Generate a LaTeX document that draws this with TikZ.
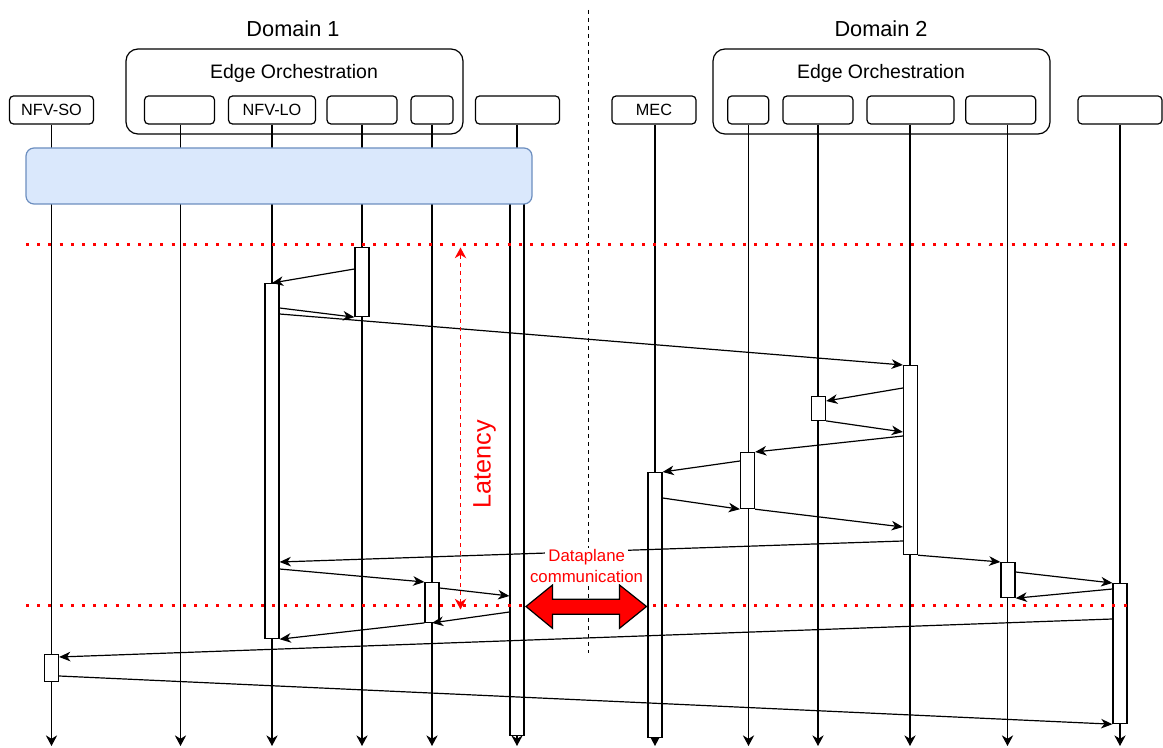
\documentclass[tikz,border=0pt]{standalone}
\usepackage{fontspec}
\setmainfont{Liberation Sans}
\usetikzlibrary{arrows.meta,calc}
\definecolor{bluefill}{HTML}{DAE8FC}
\definecolor{blueline}{HTML}{6C8EBF}
\definecolor{myred}{HTML}{FF0000}
\begin{document}
\begin{tikzpicture}[x=0.75pt,y=-0.75pt,
  lbl/.style={draw, rounded corners=3pt, line width=0.9pt, inner sep=0pt,
    font=\fontsize{12.2}{14}\selectfont, minimum height={28*0.75pt}},
  orch/.style={draw, rounded corners=9pt, line width=0.9pt, inner sep=0pt,
    minimum height={85*0.75pt}, minimum width={337*0.75pt}},
  title/.style={anchor=base, inner sep=0pt, font=\fontsize{16.3}{19}\selectfont},
  subtitle/.style={anchor=base, inner sep=0pt, font=\fontsize{14.6}{17}\selectfont},
  life/.style={line width=0.9pt, -{Stealth[length=8pt,width=8.5pt,inset=2.6pt]}},
  bar/.style={draw, fill=white, line width=0.9pt, inner sep=0pt, anchor=north,
    minimum width={14*0.75pt}},
  msg/.style={line width=0.9pt, -{Stealth[length=8.5pt,width=7.2pt,inset=2.6pt]}},
  reddot/.style={myred, line width=2.25pt, dash pattern=on 2.25pt off 6.15pt},
  latarrow/.style={myred, line width=1pt, dash pattern=on 3pt off 3pt,
    {Stealth[length=8pt,width=8.5pt,inset=2.5pt]}-{Stealth[length=8pt,width=8.5pt,inset=2.5pt]}},
  dp/.style={anchor=base, fill=white, text=myred, inner xsep=2.5pt, inner ysep=1pt,
    font=\fontsize{12.6}{15}\selectfont}]
\useasboundingbox (0,0) rectangle (1163,748);
\coordinate (bottom) at (0,746);

% containers and titles
\node[orch] (orch1) at (294.5,91.5) {};
\node[orch] (orch2) at (881.5,91.5) {};
\node[title] (dom1) at (293,36.7) {Domain 1};
\node[title] (dom2) at (881,36.7) {Domain 2};
\node[subtitle] (eo1) at (294,78.3) {Edge Orchestration};
\node[subtitle] (eo2) at (881,78.3) {Edge Orchestration};

% participant boxes
\node[lbl, minimum width={84*0.75pt}] (so) at (51.5,110) {NFV-SO};
\node[lbl, minimum width={70*0.75pt}] (p2) at (179.5,110) {};
\node[lbl, minimum width={87*0.75pt}] (lo) at (272,110) {NFV-LO};
\node[lbl, minimum width={70*0.75pt}] (p4) at (362,110) {};
\node[lbl, minimum width={42*0.75pt}] (p5) at (432,110) {};
\node[lbl, minimum width={84*0.75pt}] (p6) at (517.5,110) {};
\node[lbl, minimum width={84*0.75pt}] (mec) at (654,110) {MEC};
\node[lbl, minimum width={41*0.75pt}] (q1) at (748.2,110) {};
\node[lbl, minimum width={70*0.75pt}] (q2) at (818,110) {};
\node[lbl, minimum width={87*0.75pt}] (q3) at (910.5,110) {};
\node[lbl, minimum width={70*0.75pt}] (q4) at (1000.7,110) {};
\node[lbl, minimum width={84*0.75pt}] (q5) at (1120,110) {};

% lifelines
\draw[life] (so.south) -- (so.south |- bottom);
\draw[life] ($(p2.south)+(1,0)$) coordinate (l2) -- (l2 |- bottom);
\draw[life] (lo.south) -- (lo.south |- bottom);
\draw[life] (p4.south) -- (p4.south |- bottom);
\draw[life] (p5.south) -- (p5.south |- bottom);
\draw[life] ($(p6.south)+(-0.5,0)$) coordinate (l6) -- (l6 |- bottom);
\draw[life] ($(mec.south)+(1,0)$) coordinate (lm) -- (lm |- bottom);
\draw[life] ($(q1.south)+(0.3,0)$) coordinate (lq1) -- (lq1 |- bottom);
\draw[life] (q2.south) -- (q2.south |- bottom);
\draw[life] ($(q3.south)+(-0.5,0)$) coordinate (lq3) -- (lq3 |- bottom);
\draw[life] ($(q4.south)+(6.8,0)$) coordinate (lq4) -- (lq4 |- bottom);
\draw[life] (q5.south) -- (q5.south |- bottom);

% activation bars
\node[bar, minimum height={27*0.75pt}] (bSO) at (51.5,654) {};
\node[bar, minimum height={355*0.75pt}] (bLO) at (272,283) {};
\node[bar, minimum height={69*0.75pt}] (b4) at (362,247) {};
\node[bar, minimum height={39.7*0.75pt}] (b5) at (432,582) {};
\node[bar, minimum height={535*0.75pt}] (b6) at (517,200) {};
\node[bar, minimum height={265*0.75pt}] (bMEC) at (655,472) {};
\node[bar, minimum height={56*0.75pt}] (b748) at (747.5,452) {};
\node[bar, minimum height={23.7*0.75pt}] (b818) at (818.5,396) {};
\node[bar, minimum height={189*0.75pt}] (b910) at (910.5,365) {};
\node[bar, minimum height={35*0.75pt}] (b1007) at (1008,562) {};
\node[bar, minimum height={140*0.75pt}] (b1120) at (1120,583) {};

% blue bar
\node[draw=blueline, fill=bluefill, rounded corners=6pt, line width=0.9pt, inner sep=0pt,
  minimum width={506*0.75pt}, minimum height={56*0.75pt}] (bus) at (279,176) {};

% separator
\coordinate (sepT) at (588,10);
\coordinate (sepB) at (588,653);
\draw[line width=0.75pt, dash pattern=on 3pt off 3pt] (sepT) -- (sepB);

% messages
\draw[msg] ($(b4.north west)+(0,22)$) -- (bLO.north);
\draw[msg] ($(bLO.north east)+(0,25)$) -- (b4.south west);
\draw[msg] ($(bLO.north east)+(0,31)$) -- (b910.north west);
\draw[msg] ($(b910.north west)+(0,23)$) -- ($(b818.north east)+(0,5)$);
\draw[msg] (b818.south east) -- ($(b910.north west)+(0,67)$);
\draw[msg] ($(b910.north west)+(0,71)$) -- (b748.north east);
\draw[msg] ($(b748.north west)+(0,9)$) -- (bMEC.north east);
\draw[msg] ($(bMEC.north east)+(0,26)$) -- (b748.south west);
\draw[msg] (b748.south east) -- ($(b910.north west)+(0,162)$);
\draw[msg] ($(b910.north west)+(0,176)$) -- ($(bLO.north east)+(0,279)$);
\draw[msg] ($(bLO.north east)+(0,286)$) -- (b5.north west);
\draw[msg] ($(b5.north east)+(0,6)$) -- ($(b6.north west)+(0,396)$);
\draw[msg] ($(b6.north west)+(0,412)$) -- (b5.south);
\draw[msg] (b5.south west) -- (bLO.south east);
\draw[msg] (b910.south east) -- (b1007.north west);
\draw[msg] ($(b1007.north east)+(0,10)$) -- (b1120.north west);
\draw[msg] ($(b1120.north west)+(0,6)$) -- (b1007.south east);
\draw[msg] ($(b1120.north west)+(0,36)$) -- ($(bSO.north east)+(0,3)$);
\draw[msg] ($(bSO.north east)+(0,22)$) -- (b1120.south west);

% red dotted lines
\coordinate (d1L) at (26,245);
\coordinate (d1R) at (1128,245);
\coordinate (d2L) at (26,605);
\coordinate (d2R) at (1128,605);
\draw[reddot] (d1L) -- (d1R);
\draw[reddot] (d2L) -- (d2R);

% latency
\coordinate (latT) at (460.5,247.5);
\coordinate (latB) at (460.5,609.5);
\draw[latarrow] (latB) -- (latT);
\node[rotate=90, anchor=base, inner sep=0pt, text=myred, font=\fontsize{18.9}{22}\selectfont]
  (lat) at (490.7,464.2) {Latency};

% dataplane double arrow
\draw[fill=myred, line width=0.9pt, line join=miter]
  (526,606.5) -- (552.5,585) -- (552.5,599.3) -- (619.5,599.3) -- (619.5,585)
  -- (646.5,606.5) -- (619.5,628.3) -- (619.5,614.3) -- (552.5,614.3) -- (552.5,628.3) -- cycle;
\node[dp] (dp1) at (586.7,561.7) {Dataplane};
\node[dp] (dp2) at (586.5,582.7) {communication};
\end{tikzpicture}
\end{document}
